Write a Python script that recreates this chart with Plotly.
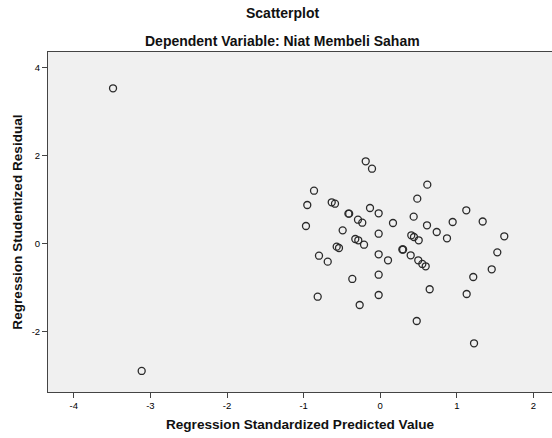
import plotly.graph_objects as go

# Regression Standardized Predicted Value
pred = [-3.488, -3.114, -0.189, -0.107, -0.864, -0.952, -0.633, -0.590, -0.415, -0.405,
        -0.133, -0.020, -0.290, -0.234, 0.167, -0.969, -0.490, -0.020, -0.325, -0.286,
        -0.211, -0.568, -0.538, 0.615, 0.484, 1.124, 0.437, 0.611, 0.946, 1.338,
        0.738, 0.406, 0.441, 0.503, 0.872, 1.620, 0.289, 0.299, 1.529, -0.799,
        -0.685, -0.020, 0.102, -0.364, -0.020, -0.816, -0.020, -0.268, 0.398, 0.497,
        0.550, 0.594, 1.456, 1.215, 0.646, 1.129, 0.477, 1.225]
# Regression Studentized Residual
resid = [3.523, -2.902, 1.864, 1.695, 1.195, 0.870, 0.932, 0.900, 0.673, 0.673,
         0.802, 0.682, 0.536, 0.468, 0.461, 0.393, 0.295, 0.218, 0.098, 0.068,
         -0.032, -0.077, -0.107, 1.332, 1.014, 0.750, 0.605, 0.409, 0.484, 0.495,
         0.257, 0.182, 0.143, 0.068, 0.114, 0.159, -0.141, -0.141, -0.205, -0.282,
         -0.418, -0.250, -0.386, -0.811, -0.714, -1.214, -1.175, -1.402, -0.273, -0.386,
         -0.470, -0.523, -0.591, -0.766, -1.045, -1.152, -1.766, -2.273]

x_ticks = [-4, -3, -2, -1, 0, 1, 2]
y_ticks = [-2, 0, 2, 4]

FONT = "Liberation Sans, Arial, sans-serif"

fig = go.Figure()
fig.add_trace(go.Scatter(
    x=pred, y=resid, mode="markers",
    marker=dict(symbol="circle-open", size=7, color="#2a2a2a", line=dict(width=1.3, color="#2a2a2a")),
    showlegend=False, hoverinfo="x+y",
))

fig.update_layout(
    width=552, height=438,
    margin=dict(l=48, r=0, t=52, b=46),
    paper_bgcolor="white",
    plot_bgcolor="#f0f0f0",
    font=dict(family=FONT, color="black"),
    xaxis=dict(
        range=[-4.337, 2.243], tickvals=x_ticks, ticktext=[str(v) for v in x_ticks],
        showgrid=False, zeroline=False, showline=True, mirror=True,
        linecolor="#444444", linewidth=1,
        ticks="outside", ticklen=5, tickcolor="#444444", tickwidth=1,
        tickfont=dict(size=9.5, family=FONT, color="black"),
        title=dict(text="<b>Regression Standardized Predicted Value</b>",
                   font=dict(size=13.6, family=FONT, color="#111111"), standoff=9),
    ),
    yaxis=dict(
        range=[-3.38, 4.348], tickvals=y_ticks, ticktext=[str(v) for v in y_ticks],
        showgrid=False, zeroline=False, showline=True, mirror=False,
        linecolor="#444444", linewidth=1,
        ticks="outside", ticklen=5, tickcolor="#444444", tickwidth=1,
        tickfont=dict(size=9.5, family=FONT, color="black"),
        title=dict(text="<b>Regression Studentized Residual</b>",
                   font=dict(size=13.6, family=FONT, color="#111111"), standoff=5),
    ),
    annotations=[
        dict(text="<b>Scatterplot</b>", xref="paper", yref="paper",
             x=(282 - 48) / 504, y=1 + (52 - 13) / 340, xanchor="center", yanchor="middle",
             showarrow=False, font=dict(size=14, family=FONT, color="#111111")),
        dict(text="<b>Dependent Variable: Niat Membeli Saham</b>", xref="paper", yref="paper",
             x=(282 - 48) / 504, y=1 + (52 - 41) / 340, xanchor="center", yanchor="middle",
             showarrow=False, font=dict(size=14, family=FONT, color="#111111")),
    ],
)

fig.write_html("out.html", config={"displayModeBar": False},
               post_script="document.body.style.margin='0';document.body.style.overflow='hidden';")
